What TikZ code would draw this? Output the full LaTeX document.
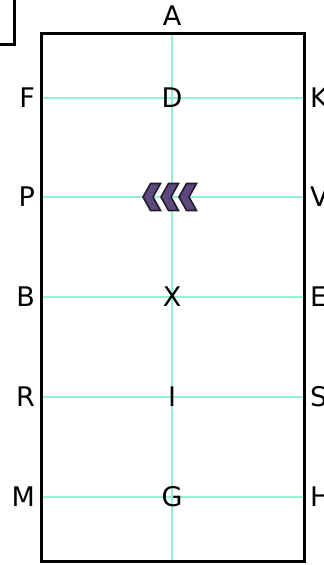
\documentclass[tikz,border=0pt]{standalone}
\usepackage{fontspec}
\setmainfont{DejaVu Sans}
\usetikzlibrary{positioning,calc,backgrounds}
\definecolor{gridline}{RGB}{150,240,210}
\definecolor{chevfill}{RGB}{92,74,126}
\definecolor{chevline}{RGB}{36,28,44}

\begin{document}
\begin{tikzpicture}[
  x=1pt, y=-1pt,
  font=\fontsize{27}{30}\selectfont,
  lbl/.style={inner sep=0pt},
  grid/.style={draw=gridline, line width=1.3pt},
  wall/.style={draw=black, line width=3pt},
  chev/.style={fill=chevfill, draw=chevline, line width=1.6pt, line join=miter}
]
\useasboundingbox (0,0) rectangle (324,565);
\clip (0,0) rectangle (324,565);
% arena corners
\coordinate (nw) at (41,33);
\coordinate (se) at (304,561);
\coordinate (top) at (172,33);
\coordinate (bot) at (172,561);
% letters
\node[lbl] (a) at (172,16) {A};
\node[lbl] (d) at (172,98) {D};
\node[lbl] (x) at (172,297) {X};
\node[lbl] (i) at (172,397) {I};
\node[lbl] (g) at (172,497) {G};
\node[lbl, anchor=east] (f) at (35,98) {F};
\node[lbl, anchor=east] (p) at (35,197) {P};
\node[lbl, anchor=east] (b) at (35,297) {B};
\node[lbl, anchor=east] (r) at (35,397) {R};
\node[lbl, anchor=east] (m) at (35,497) {M};
\node[lbl, anchor=west] (k) at (310,98) {K};
\node[lbl, anchor=west] (v) at (310,197) {V};
\node[lbl, anchor=west] (e) at (310,297) {E};
\node[lbl, anchor=west] (s) at (310,397) {S};
\node[lbl, anchor=west] (h) at (310,497) {H};
% grid lines, behind the letters
\begin{scope}[on background layer]
\draw[grid] (top) -- (bot);
\draw[grid] (f.east -| nw) -- (k.west -| se);
\draw[grid] (p.east -| nw) -- (v.west -| se);
\draw[grid] (b.east -| nw) -- (e.west -| se);
\draw[grid] (r.east -| nw) -- (s.west -| se);
\draw[grid] (m.east -| nw) -- (h.west -| se);
\end{scope}
% arena and corner box
\draw[wall] (nw) rectangle (se);
\draw[wall] (-20,-10) rectangle (14,44);
% chevrons
\coordinate (tip) at (143,197);
\foreach \dx in {0,18,36}
  \filldraw[chev] ($(tip)+(\dx,0)$) -- ++(7.5,-13.5) -- ++(10,0) -- ++(-7.5,13.5)
    -- ++(7.5,13.5) -- ++(-10,0) -- cycle;
\end{tikzpicture}
\end{document}
